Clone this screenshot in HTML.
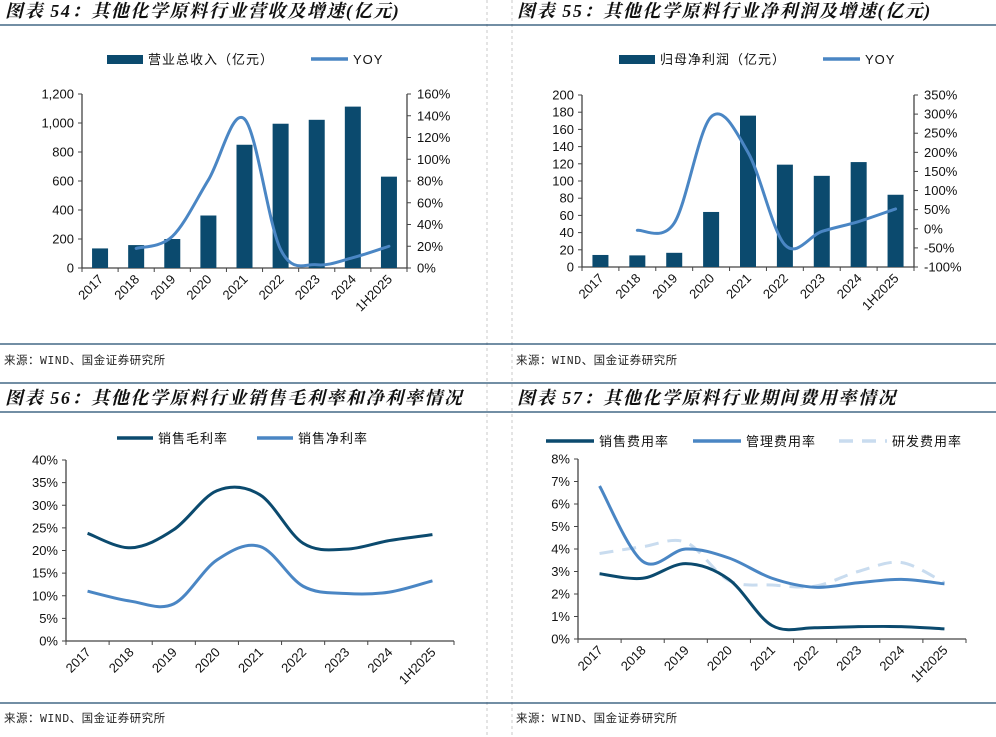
<!DOCTYPE html>
<html><head><meta charset="utf-8">
<style>
html,body{margin:0;padding:0;background:#fff;}
svg{display:block;font-family:"Liberation Sans","Noto Sans CJK SC",sans-serif;}
.title{font-family:"Liberation Serif","Noto Serif CJK SC",serif;font-weight:bold;font-style:italic;font-size:18px;letter-spacing:1.6px;fill:#111;}
.src{font-family:"Liberation Mono","Noto Sans CJK SC",monospace;font-size:11.5px;fill:#222;letter-spacing:0.5px;}
.tick{font-size:13px;fill:#111;}
.leg{font-size:13px;fill:#111;letter-spacing:1px;font-family:"Liberation Sans","Noto Sans CJK SC",sans-serif;}
</style></head>
<body>
<svg id="s" width="996" height="737" viewBox="0 0 996 737">
<line x1="487" y1="0" x2="487" y2="737" stroke="#c8c8c8" stroke-dasharray="3,3"/>
<line x1="512" y1="0" x2="512" y2="737" stroke="#c8c8c8" stroke-dasharray="3,3"/>
<line x1="0" y1="25" x2="996" y2="25" stroke="#1d4a6e" stroke-width="1.3"/>
<line x1="0" y1="344" x2="996" y2="344" stroke="#1d4a6e" stroke-width="1.3"/>
<line x1="0" y1="383" x2="996" y2="383" stroke="#1d4a6e" stroke-width="1.3"/>
<line x1="0" y1="412" x2="996" y2="412" stroke="#1d4a6e" stroke-width="1.3"/>
<line x1="0" y1="703" x2="996" y2="703" stroke="#1d4a6e" stroke-width="1.3"/>
<text class="title" x="5" y="17">图表 54：其他化学原料行业营收及增速(亿元)</text>
<text class="title" x="517" y="17">图表 55：其他化学原料行业净利润及增速(亿元)</text>
<text class="title" x="5" y="404">图表 56：其他化学原料行业销售毛利率和净利率情况</text>
<text class="title" x="517" y="404">图表 57：其他化学原料行业期间费用率情况</text>
<text class="src" x="4" y="364">来源：WIND、国金证券研究所</text>
<text class="src" x="516" y="364">来源：WIND、国金证券研究所</text>
<text class="src" x="4" y="722">来源：WIND、国金证券研究所</text>
<text class="src" x="516" y="722">来源：WIND、国金证券研究所</text>
<g id="g"></g>
</svg>
<script>
const categories = ["2017","2018","2019","2020","2021","2022","2023","2024","1H2025"];
const revenue = [135,158,200,362,850,995,1022,1113,630];
const revenueYoy = [null,18,29,81,137,17,3,9.5,20];
const revenueTicks = ["0","200","400","600","800","1,000","1,200"];
const revenueYoyTicks = ["0%","20%","40%","60%","80%","100%","120%","140%","160%"];
const profit = [14,13.5,16.5,64,176,119,106,122,84];
const profitYoy = [null,-4,15,293,200,-42,-7,19,52];
const profitTicks = ["0","20","40","60","80","100","120","140","160","180","200"];
const profitYoyTicks = ["-100%","-50%","0%","50%","100%","150%","200%","250%","300%","350%"];
const grossMargin = [23.8,20.6,24.6,33.2,32.3,21.6,20.3,22.2,23.5];
const netMargin = [11.0,8.8,8.2,17.9,20.9,12.1,10.5,10.8,13.3];
const marginTicks = ["0%","5%","10%","15%","20%","25%","30%","35%","40%"];
const sellingExp = [2.9,2.7,3.35,2.65,0.6,0.5,0.55,0.55,0.45];
const adminExp = [6.8,3.45,4.0,3.6,2.7,2.3,2.5,2.65,2.45];
const rdExp = [3.8,4.1,4.3,2.6,2.4,2.35,3.0,3.4,2.5];
const expTicks = ["0%","1%","2%","3%","4%","5%","6%","7%","8%"];

const NS="http://www.w3.org/2000/svg";
const G=document.getElementById('g');
function mk(tag,attrs,parent){const e=document.createElementNS(NS,tag);for(const k in attrs)e.setAttribute(k,attrs[k]);(parent||G).appendChild(e);return e;}
const DARK="#0b4a6e",MID="#4a86c4",LIGHT="#c9dcef";

function smooth(pts){
  let d="M"+pts[0][0]+","+pts[0][1];
  for(let i=0;i<pts.length-1;i++){
    const p0=pts[i-1]||pts[i],p1=pts[i],p2=pts[i+1],p3=pts[i+2]||p2;
    const t=1/6;
    const c1=[p1[0]+(p2[0]-p0[0])*t,p1[1]+(p2[1]-p0[1])*t];
    const c2=[p2[0]-(p3[0]-p1[0])*t,p2[1]-(p3[1]-p1[1])*t];
    d+=" C"+c1[0]+","+c1[1]+" "+c2[0]+","+c2[1]+" "+p2[0]+","+p2[1];
  }
  return d;
}

function axes(o){
  const n=categories.length,bw=(o.x1-o.x0)/n;
  const xc=i=>o.x0+bw*(i+0.5);
  const ax=mk('path',{d:`M${o.x0},${o.yT} V${o.yB} H${o.x1}`+(o.right?` V${o.yT}`:''),stroke:"#444",fill:"none","stroke-width":1.3});
  
  
  o.lt.forEach((t,i)=>{const y=o.yB-(o.yB-o.yT)*i/(o.lt.length-1);
    mk('line',{x1:o.x0-4,x2:o.x0,y1:y,y2:y,stroke:"#444"});
    const tx=mk('text',{x:o.x0-8,y:y+4.5,"text-anchor":"end",class:"tick"});tx.textContent=t;
    
    });
  if(o.rt)o.rt.forEach((t,i)=>{const y=o.yB-(o.yB-o.yT)*i/(o.rt.length-1);
    mk('line',{x1:o.x1,x2:o.x1+4,y1:y,y2:y,stroke:"#444"});
    const tx=mk('text',{x:o.x1+10,y:y+4.5,class:"tick"});tx.textContent=t;
    
    });
  for(let i=0;i<=n;i++){const x=o.x0+bw*i;mk('line',{x1:x,x2:x,y1:o.yB,y2:o.yB+4,stroke:"#444"});}
  categories.forEach((c,i)=>{const x=xc(i)+4,y=o.yB+12;
    const tx=mk('text',{x:x,y:y,"text-anchor":"end",class:"tick",transform:`rotate(-45 ${x} ${y})`});tx.textContent=c;
    
    });
  return {xc,bw};
}

function barPanel(o,vals,yoy,lmax,rmin,rmax){
  const {xc}=axes(o);
  const yL=v=>o.yB-(o.yB-o.yT)*v/lmax;
  const yR=v=>o.yB-(o.yB-o.yT)*(v-rmin)/(rmax-rmin);
  vals.forEach((v,i)=>{const r=mk('rect',{x:xc(i)-8,y:yL(v),width:16,height:o.yB-yL(v),fill:DARK});
    
    });
  const pts=[];yoy.forEach((v,i)=>{if(v!==null)pts.push([xc(i),yR(v)]);});
  const p=mk('path',{d:smooth(pts),stroke:MID,"stroke-width":3,fill:"none","stroke-linecap":"round"});
  
  
}
function linePanel(o,series,max){
  const {xc}=axes(o);
  const y=v=>o.yB-(o.yB-o.yT)*v/max;
  series.forEach(s=>{const p=mk('path',{d:smooth(s.v.map((v,i)=>[xc(i),y(v)])),stroke:s.c,"stroke-width":3,fill:"none","stroke-dasharray":s.dash||"none"});
    
    });
}
function legend(items,y){
  items.forEach(it=>{
    if(it.rect){const r=mk('rect',{x:it.x,y:y-4,width:it.w,height:9,fill:it.c});
      }
    else{const l=mk('line',{x1:it.x,x2:it.x+it.w,y1:y,y2:y,stroke:it.c,"stroke-width":3.5,"stroke-dasharray":it.dash||"none"});
      }
    const t=mk('text',{x:it.x+it.w+5,y:y+5,class:"leg"});t.textContent=it.t;
    
    
  });
}

barPanel({id:"chart54",x0:82,x1:407,yT:94,yB:268,lt:revenueTicks,rt:revenueYoyTicks,right:true},revenue,revenueYoy,1200,0,160);
legend([{x:107,w:36,c:DARK,rect:1,t:"营业总收入（亿元）"},{x:311,w:37,c:MID,t:"YOY"}],59);
barPanel({id:"chart55",x0:582,x1:914,yT:95,yB:267,lt:profitTicks,rt:profitYoyTicks,right:true},profit,profitYoy,200,-100,350);
legend([{x:619,w:36,c:DARK,rect:1,t:"归母净利润（亿元）"},{x:823,w:37,c:MID,t:"YOY"}],59);
linePanel({id:"chart56",x0:66,x1:454,yT:460,yB:641,lt:marginTicks},[{v:grossMargin,c:DARK,name:"gross-margin-line"},{v:netMargin,c:MID,name:"net-margin-line"}],40);
legend([{x:117,w:36,c:DARK,t:"销售毛利率"},{x:257,w:36,c:MID,t:"销售净利率"}],438);
linePanel({id:"chart57",x0:578,x1:966,yT:459,yB:639,lt:expTicks},[{v:rdExp,c:LIGHT,dash:"14,9",name:"rd-expense-line"},{v:adminExp,c:MID,name:"admin-expense-line"},{v:sellingExp,c:DARK,name:"selling-expense-line"}],8);
legend([{x:546,w:48,c:DARK,t:"销售费用率"},{x:693,w:48,c:MID,t:"管理费用率"},{x:839,w:48,c:LIGHT,dash:"14,9",t:"研发费用率"}],441);
</script>
</body></html>
